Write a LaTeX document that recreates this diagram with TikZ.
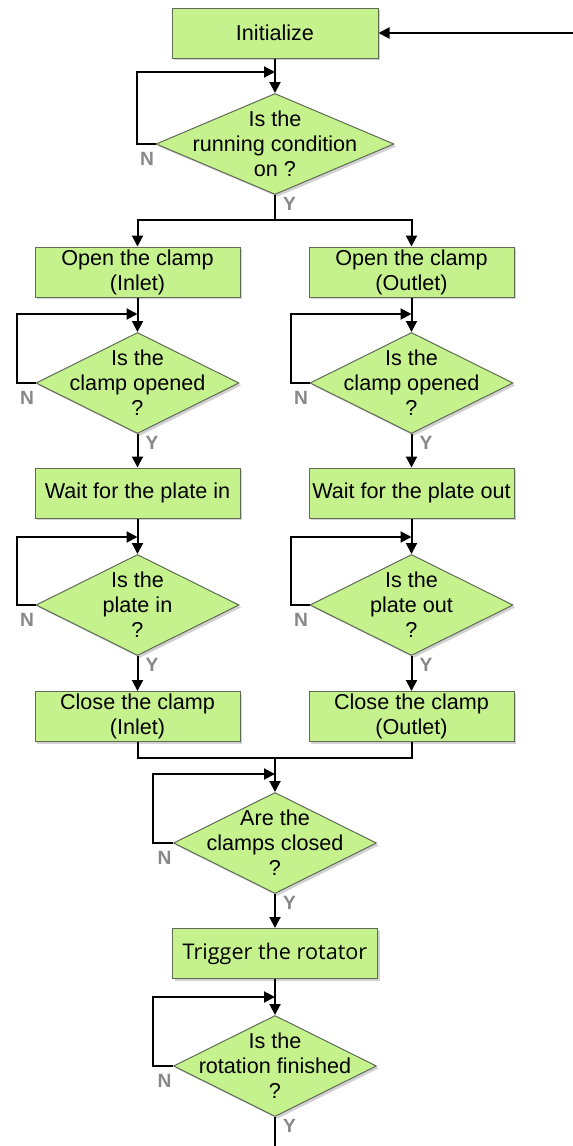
\documentclass[tikz,border=0pt]{standalone}
\usepackage{fontspec}
\setmainfont{Liberation Sans}
\newfontfamily\trigfont{Open Sans}
\usetikzlibrary{arrows.meta,shapes.geometric,shadows,positioning}
\definecolor{flowgreen}{HTML}{C6F28E}
\definecolor{flowedge}{HTML}{5F6B55}
\definecolor{yngray}{HTML}{888888}
\newcommand{\flowfont}{\fontsize{10.8}{12.5}\selectfont}
\newcommand{\ynfont}{\fontsize{9.6}{10}\selectfont\bfseries}
\tikzset{
  flowshadow/.style={drop shadow={shadow xshift=1.2pt,shadow yshift=-1.2pt,fill=black!40,opacity=0.45}},
  procbox/.style={rectangle,draw=flowedge,line width=0.5pt,fill=flowgreen,
    minimum width=102.5pt,minimum height=25pt,inner sep=0pt,align=center,
    font=\flowfont,flowshadow},
  decision/.style={diamond,draw=flowedge,line width=0.5pt,fill=flowgreen,
    minimum width=101.5pt,minimum height=50.5pt,inner sep=0pt,flowshadow},
  dectext/.style={align=center,inner sep=0pt,font=\flowfont},
  flow/.style={line width=1pt,-{Triangle[length=5.5pt,width=5.5pt]}},
  conn/.style={line width=1pt},
  yn/.style={font=\ynfont,text=yngray,inner sep=0pt}
}
\begin{document}
\begin{tikzpicture}[x=0.5pt,y=-0.5pt]
  \path[use as bounding box,fill=white] (0,0) rectangle (573,1146);
  % ---------------- start
  \node[procbox,minimum width=103pt] (init) at (275,33) {Initialize};
  \node[decision,minimum width=119pt] (decrun) at (275,144)
     [label={[dectext]center:{Is the\\running condition\\on ?}}] {};
  % ---------------- inlet column
  \node[procbox] (openin) at (137.5,272) {Open the clamp\\(Inlet)};
  \node[decision] (decopenin) at (137.5,383)
     [label={[dectext]center:{Is the\\clamp opened\\?}}] {};
  \node[procbox] (waitin) at (137.5,493) {Wait for the plate in};
  \node[decision] (decplatein) at (137.5,605)
     [label={[dectext]center:{Is the\\plate in\\?}}] {};
  \node[procbox] (closein) at (137.5,716.5) {Close the clamp\\(Inlet)};
  % ---------------- outlet column
  \node[procbox] (openout) at (411.5,272) {Open the clamp\\(Outlet)};
  \node[decision] (decopenout) at (411.5,383)
     [label={[dectext]center:{Is the\\clamp opened\\?}}] {};
  \node[procbox] (waitout) at (411.5,493) {Wait for the plate out};
  \node[decision] (decplateout) at (411.5,605)
     [label={[dectext]center:{Is the\\plate out\\?}}] {};
  \node[procbox] (closeout) at (411.5,716.5) {Close the clamp\\(Outlet)};
  % ---------------- rotation
  \node[decision] (decclosed) at (275,843)
     [label={[dectext]center:{Are the\\clamps closed\\?}}] {};
  \node[procbox] (trigger) at (275,953.5) {\trigfont Trigger the rotator};
  \node[decision] (decrot) at (275,1066)
     [label={[dectext]center:{Is the\\rotation finished\\?}}] {};
  % ---------------- helper points
  \coordinate (entry) at (573,33);
  \coordinate (exit) at (275,1146);
  \coordinate (split) at (275,220);
  \coordinate (merge) at (275,758);
  \coordinate (lprun) at (137,72);
  \coordinate (lpopenin) at (17,314);
  \coordinate (lpopenout) at (291,314);
  \coordinate (lpplatein) at (17,537);
  \coordinate (lpplateout) at (291,537);
  \coordinate (lpclosed) at (153,774);
  \coordinate (lprot) at (153,997);
  % ---------------- connectors
  \draw[flow] (entry) -- (init.east);
  \draw[flow] (init.south) -- (decrun.north);
  \draw[flow] (decrun.west) -| (lprun) -- (lprun -| decrun.north);
  \draw[conn] (decrun.south) -- (split);
  \draw[flow] (split) -| (openin.north);
  \draw[flow] (split) -| (openout.north);
  \draw[flow] (openin.south) -- (decopenin.north);
  \draw[flow] (decopenin.west) -| (lpopenin) -- (lpopenin -| decopenin.north);
  \draw[flow] (decopenin.south) -- (waitin.north);
  \draw[flow] (waitin.south) -- (decplatein.north);
  \draw[flow] (decplatein.west) -| (lpplatein) -- (lpplatein -| decplatein.north);
  \draw[flow] (decplatein.south) -- (closein.north);
  \draw[flow] (openout.south) -- (decopenout.north);
  \draw[flow] (decopenout.west) -| (lpopenout) -- (lpopenout -| decopenout.north);
  \draw[flow] (decopenout.south) -- (waitout.north);
  \draw[flow] (waitout.south) -- (decplateout.north);
  \draw[flow] (decplateout.west) -| (lpplateout) -- (lpplateout -| decplateout.north);
  \draw[flow] (decplateout.south) -- (closeout.north);
  \draw[conn] (closein.south) |- (merge);
  \draw[conn] (closeout.south) |- (merge);
  \draw[flow] (merge) -- (decclosed.north);
  \draw[flow] (decclosed.west) -| (lpclosed) -- (lpclosed -| decclosed.north);
  \draw[flow] (decclosed.south) -- (trigger.north);
  \draw[flow] (trigger.south) -- (decrot.north);
  \draw[flow] (decrot.west) -| (lprot) -- (lprot -| decrot.north);
  \draw[conn] (decrot.south) -- (exit);
  % ---------------- N / Y marks
  \foreach \d in {decrun,decopenin,decopenout,decplatein,decplateout,decclosed,decrot}{
    \node[yn,below left=3.8pt and 0.6pt of \d.west] (n\d) {N};
    \node[yn,below right=0.8pt and 3.8pt of \d.south] (y\d) {Y};
  }
\end{tikzpicture}
\end{document}
